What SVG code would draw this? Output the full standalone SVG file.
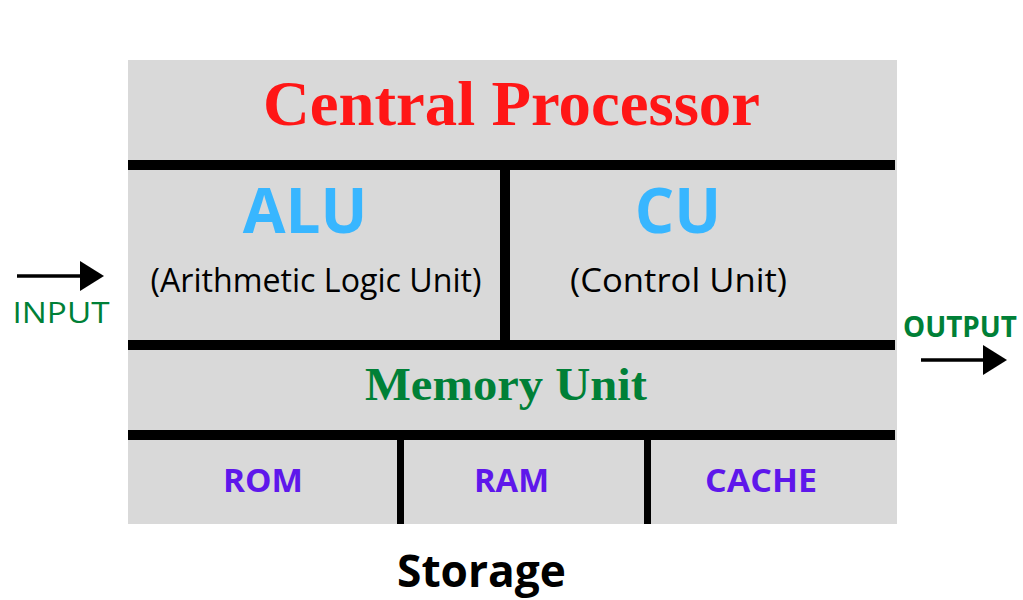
<svg xmlns="http://www.w3.org/2000/svg" width="1023" height="600" viewBox="0 0 1023 600">
<style>
.bg{fill:#ffffff}
.panel{fill:#d9d9d9}
.bar{fill:#000000}
.sans{font-family:"Open Sans","Noto Sans","Liberation Sans",sans-serif}
.serif{font-family:"Liberation Serif","DejaVu Serif",serif;font-weight:700}
.title{fill:#ff1616;font-size:64px}
.unit{fill:#38b6ff;font-size:62px;font-weight:700}
.sub{fill:#000000;font-size:32px;font-weight:400}
.mem{fill:#008037;font-size:47px}
.store{fill:#5e17eb;font-size:33px;font-weight:700}
.storage{fill:#000000;font-size:45px;font-weight:700}
.io{fill:#008037}
.arrow{stroke:#000000;stroke-width:3.5;fill:none}
.head{fill:#000000}
</style>
<rect class="bg" x="0" y="0" width="1023" height="600"/>
<g id="processor">
<rect class="panel" x="128" y="60" width="769" height="464"/>
<rect class="bar" x="128" y="160" width="767" height="10"/>
<rect class="bar" x="500" y="170" width="10" height="172"/>
<rect class="bar" x="128" y="340" width="767" height="10"/>
<rect class="bar" x="128" y="430" width="767" height="10"/>
<rect class="bar" x="397" y="440" width="7" height="84"/>
<rect class="bar" x="644" y="440" width="7" height="84"/>
<text class="serif title" x="511.5" y="125" text-anchor="middle" textLength="497" lengthAdjust="spacingAndGlyphs">Central Processor</text>
</g>
<g id="alu">
<text class="sans unit" x="305" y="233" text-anchor="middle">ALU</text>
<text class="sans sub" x="316" y="292" text-anchor="middle" textLength="331" lengthAdjust="spacingAndGlyphs">(Arithmetic Logic Unit)</text>
</g>
<g id="cu">
<text class="sans unit" x="678" y="233" text-anchor="middle">CU</text>
<text class="sans sub" x="678.5" y="292" text-anchor="middle" textLength="217" lengthAdjust="spacingAndGlyphs">(Control Unit)</text>
</g>
<g id="memory">
<text class="serif mem" x="506" y="400" text-anchor="middle" textLength="282" lengthAdjust="spacingAndGlyphs">Memory Unit</text>
</g>
<g id="rom"><text class="sans store" x="263" y="492" text-anchor="middle" textLength="80" lengthAdjust="spacingAndGlyphs">ROM</text></g>
<g id="ram"><text class="sans store" x="511.5" y="492" text-anchor="middle" textLength="75" lengthAdjust="spacingAndGlyphs">RAM</text></g>
<g id="cache"><text class="sans store" x="761" y="492" text-anchor="middle" textLength="112" lengthAdjust="spacingAndGlyphs">CACHE</text></g>
<g id="storage"><text class="sans storage" x="481.5" y="587" text-anchor="middle" textLength="169" lengthAdjust="spacingAndGlyphs">Storage</text></g>
<g id="input">
<text class="sans io" x="61" y="323" text-anchor="middle" font-size="30" textLength="97" lengthAdjust="spacingAndGlyphs">INPUT</text>
</g>
<g id="output">
<text class="sans io" x="960" y="337" text-anchor="middle" font-size="28" font-weight="700" textLength="114" lengthAdjust="spacingAndGlyphs">OUTPUT</text>
</g>
<g id="connectors">
<line class="arrow" x1="17" y1="276" x2="84" y2="276"/>
<polygon class="head" points="80,261 104,276 80,291"/>
<line class="arrow" x1="921" y1="360" x2="986" y2="360"/>
<polygon class="head" points="983,345 1007,360 983,375"/>
</g>
</svg>
